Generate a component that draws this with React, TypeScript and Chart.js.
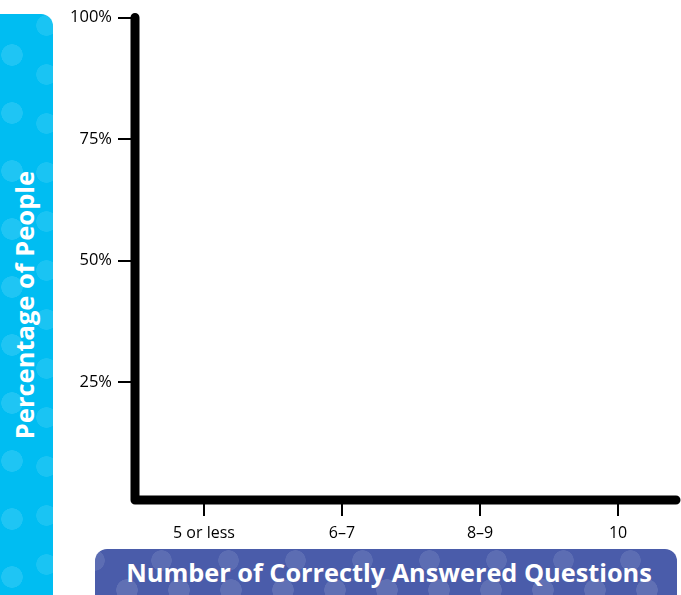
import React, { useEffect, useRef } from "react";
import { Chart, registerables } from "chart.js";

Chart.register(...registerables);

// ---- data ----
const categories = ["5 or less", "6–7", "8–9", "10"];
// The reference chart is an empty template: no bars are filled in.
const percentValues: (number | null)[] = [null, null, null, null];
const yTickValues = [25, 50, 75, 100];
const xTitle = "Number of Correctly Answered Questions";
const yTitle = "Percentage of People";

const FONT = "'Open Sans', 'Noto Sans', sans-serif";

const thickAxes = {
  id: "thickAxes",
  afterDraw(chart: any) {
    const { ctx, chartArea } = chart;
    ctx.save();
    ctx.strokeStyle = "#000";
    ctx.lineWidth = 9;
    ctx.lineCap = "round";
    ctx.lineJoin = "round";
    ctx.beginPath();
    ctx.moveTo(chartArea.left, chartArea.top);
    ctx.lineTo(chartArea.left, chartArea.bottom);
    ctx.lineTo(chartArea.right, chartArea.bottom);
    ctx.stroke();
    ctx.restore();
  },
};

function ChartCanvas() {
  const ref = useRef<HTMLCanvasElement | null>(null);
  useEffect(() => {
    if (!ref.current) return;
    const chart = new Chart(ref.current, {
      type: "bar",
      data: {
        datasets: [
          {
            label: yTitle,
            data: categories.map((_, i) => ({ x: i, y: percentValues[i] })) as any,
            backgroundColor: "#4a5caa",
          },
        ],
      },
      options: {
        responsive: false,
        animation: false,
        layout: { padding: { left: 0, top: 17.5, right: 5, bottom: 0 } },
        plugins: { legend: { display: false }, tooltip: { enabled: false } },
        scales: {
          x: {
            type: "linear",
            offset: false,
            min: -0.5,
            max: categories.length - 0.58,
            afterBuildTicks: (s: any) => {
              s.ticks = categories.map((_, i) => ({ value: i }));
            },
            afterFit: (s: any) => {
              s.height = 95;
            },
            ticks: {
              callback: (v: any) => categories[Math.round(Number(v))] ?? "",
              color: "#000",
              font: { family: FONT, size: 16 },
              padding: 8,
              maxRotation: 0,
              autoSkip: false,
            },
            grid: { offset: false, drawOnChartArea: false, tickLength: 16, lineWidth: 2, color: "#000" },
            border: { display: false },
          },
          y: {
            type: "linear",
            min: 0.8,
            max: 100,
            afterBuildTicks: (s: any) => {
              s.ticks = yTickValues.map((v) => ({ value: v }));
            },
            afterFit: (s: any) => {
              s.width = 135;
            },
            ticks: {
              callback: (v: any) => `${v}%`,
              color: "#000",
              font: { family: FONT, size: 16.5 },
              padding: 6,
            },
            grid: { drawOnChartArea: false, tickLength: 17, lineWidth: 2, color: "#000" },
            border: { display: false },
          },
        },
      },
      plugins: [thickAxes],
    });
    return () => chart.destroy();
  }, []);
  return <canvas ref={ref} width={681} height={595} style={{ position: "absolute", left: 0, top: 0 }} />;
}

const dots = (base: string) => ({
  backgroundColor: base,
  backgroundImage:
    "radial-gradient(circle, rgba(255,255,255,0.12) 10.5px, transparent 11px), radial-gradient(circle, rgba(255,255,255,0.10) 10px, transparent 10.5px)",
  backgroundSize: "52px 58px, 67px 49px",
  backgroundPosition: "6px 12px, 33px 36px",
});

export default function App() {
  return (
    <div style={{ position: "absolute", left: 0, top: 0, width: 681, height: 595, overflow: "hidden", background: "#fff" }}>
      <div
        style={{
          position: "absolute",
          left: -20,
          top: 14,
          width: 73,
          height: 620,
          borderRadius: 12,
          ...dots("#00bdf2"),
        }}
      />
      <div
        style={{
          position: "absolute",
          left: 25,
          top: 305,
          transform: "translate(-50%, -50%) rotate(-90deg)",
          whiteSpace: "nowrap",
          color: "#fff",
          fontFamily: FONT,
          fontWeight: 700,
          fontSize: 25.5,
          lineHeight: 1,
        }}
      >
        {yTitle}
      </div>
      <div
        style={{
          position: "absolute",
          left: 95,
          top: 549,
          width: 582,
          height: 60,
          borderRadius: 12,
          ...dots("#4a5caa"),
        }}
      />
      <div
        style={{
          position: "absolute",
          left: 389,
          top: 573,
          transform: "translate(-50%, -50%)",
          whiteSpace: "nowrap",
          color: "#fff",
          fontFamily: FONT,
          fontWeight: 700,
          fontSize: 25.3,
          lineHeight: 1,
        }}
      >
        {xTitle}
      </div>
      <ChartCanvas />
    </div>
  );
}
